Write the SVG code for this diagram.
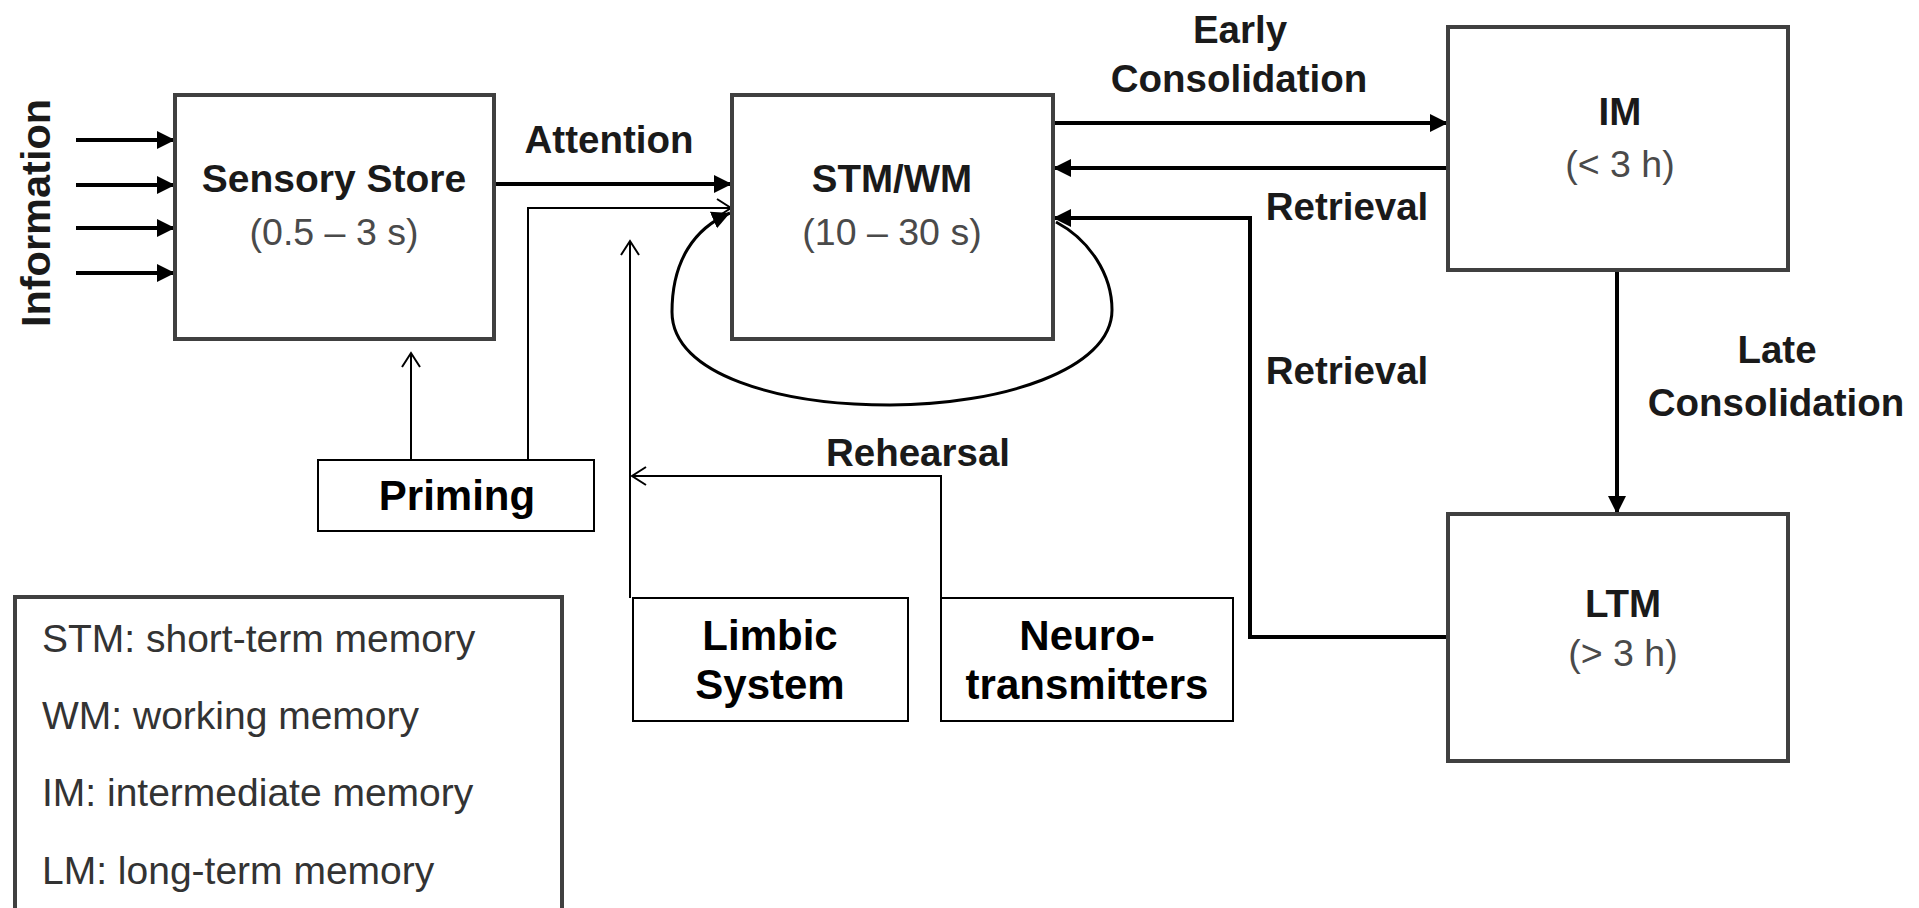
<svg xmlns="http://www.w3.org/2000/svg" width="1919" height="908" viewBox="0 0 1919 908">
<style>
.box{fill:#fff;stroke:#404040;stroke-width:4}
.tbox{fill:#fff;stroke:#000;stroke-width:2}
.lbl{font-family:"Liberation Sans",Arial,sans-serif;font-weight:bold;font-size:38.5px;fill:#1a1a1a}
.big{font-family:"Liberation Sans",Arial,sans-serif;font-weight:bold;font-size:42px;fill:#000}
.sub{font-family:"Liberation Sans",Arial,sans-serif;font-size:37.5px;fill:#4a4a4a}
.leg{font-family:"Liberation Sans",Arial,sans-serif;font-size:39px;fill:#333}
.thick{fill:none;stroke:#000;stroke-width:4}
.thin{fill:none;stroke:#000;stroke-width:2}
</style>
<defs>
<marker id="fa" markerUnits="userSpaceOnUse" markerWidth="20" markerHeight="20" refX="18" refY="10" orient="auto">
<path d="M0,1 L18,10 L0,19 z" fill="#000"/>
</marker>
<marker id="oa" markerUnits="userSpaceOnUse" markerWidth="18" markerHeight="20" refX="15" refY="10" orient="auto">
<path d="M1,1 L15,10 L1,19" fill="none" stroke="#000" stroke-width="2"/>
</marker>
</defs>
<rect width="1919" height="908" fill="#fff"/>

<g id="connectors">
<path class="thick" d="M76,140 H175" marker-end="url(#fa)"/>
<path class="thick" d="M76,185 H175" marker-end="url(#fa)"/>
<path class="thick" d="M76,228 H175" marker-end="url(#fa)"/>
<path class="thick" d="M76,273 H175" marker-end="url(#fa)"/>
<path class="thick" d="M494,184 H732" marker-end="url(#fa)"/>
<path class="thick" d="M1053,123 H1448" marker-end="url(#fa)"/>
<path class="thick" d="M1448,168 H1053" marker-end="url(#fa)"/>
<path class="thick" d="M1448,637 H1250 V218 H1053" marker-end="url(#fa)"/>
<path class="thick" d="M1617,270 V514" marker-end="url(#fa)"/>
<path class="thin" style="stroke-width:3" d="M1056,222 C1090,240 1112,275 1112,310 C1112,370 1000,405 890,405 C780,405 672,375 672,312 C672,260 695,228 730,213" marker-end="url(#fa)"/>
<path class="thin" d="M411,459 V353" marker-end="url(#oa)"/>
<path class="thin" d="M528,459 V208 H731" marker-end="url(#oa)"/>
<path class="thin" d="M630,598 V241" marker-end="url(#oa)"/>
<path class="thin" d="M941,598 V476 H632" marker-end="url(#oa)"/>
<text class="lbl" x="609" y="153" text-anchor="middle">Attention</text>
<text class="lbl" x="1240" y="43" text-anchor="middle">Early</text>
<text class="lbl" x="1239" y="92" text-anchor="middle">Consolidation</text>
<text class="lbl" x="1347" y="220" text-anchor="middle">Retrieval</text>
<text class="lbl" x="1347" y="384" text-anchor="middle">Retrieval</text>
<text class="lbl" x="1777" y="363" text-anchor="middle">Late</text>
<text class="lbl" x="1776" y="416" text-anchor="middle">Consolidation</text>
<text class="lbl" x="918" y="466" text-anchor="middle">Rehearsal</text>
<text class="lbl" transform="translate(50,213) rotate(-90)" text-anchor="middle" style="font-size:41.5px">Information</text>
</g>

<g id="sensory">
<rect class="box" x="175" y="95" width="319" height="244"/>
<text class="lbl" x="334" y="192" text-anchor="middle" style="font-size:39px">Sensory Store</text>
<text class="sub" x="334" y="245" text-anchor="middle">(0.5 – 3 s)</text>
</g>

<g id="stm">
<rect class="box" x="732" y="95" width="321" height="244"/>
<text class="lbl" x="892" y="192" text-anchor="middle">STM/WM</text>
<text class="sub" x="892" y="245" text-anchor="middle">(10 – 30 s)</text>
</g>

<g id="im">
<rect class="box" x="1448" y="27" width="340" height="243"/>
<text class="lbl" x="1620" y="125" text-anchor="middle">IM</text>
<text class="sub" x="1620" y="177" text-anchor="middle">(&lt; 3 h)</text>
</g>

<g id="ltm">
<rect class="box" x="1448" y="514" width="340" height="247"/>
<text class="lbl" x="1623" y="617" text-anchor="middle">LTM</text>
<text class="sub" x="1623" y="666" text-anchor="middle">(&gt; 3 h)</text>
</g>

<g id="priming">
<rect class="tbox" x="318" y="460" width="276" height="71"/>
<text class="big" x="457" y="510" text-anchor="middle">Priming</text>
</g>

<g id="limbic">
<rect class="tbox" x="633" y="598" width="275" height="123"/>
<text class="big" x="770" y="650" text-anchor="middle">Limbic</text>
<text class="big" x="770" y="699" text-anchor="middle">System</text>
</g>

<g id="neuro">
<rect class="tbox" x="941" y="598" width="292" height="123"/>
<text class="big" x="1087" y="650" text-anchor="middle">Neuro-</text>
<text class="big" x="1087" y="699" text-anchor="middle">transmitters</text>
</g>

<g id="legend">
<rect class="box" x="15" y="597" width="547" height="330"/>
<text class="leg" x="42" y="652">STM: short-term memory</text>
<text class="leg" x="42" y="729">WM: working memory</text>
<text class="leg" x="42" y="806">IM: intermediate memory</text>
<text class="leg" x="42" y="884">LM: long-term memory</text>
</g>
</svg>
